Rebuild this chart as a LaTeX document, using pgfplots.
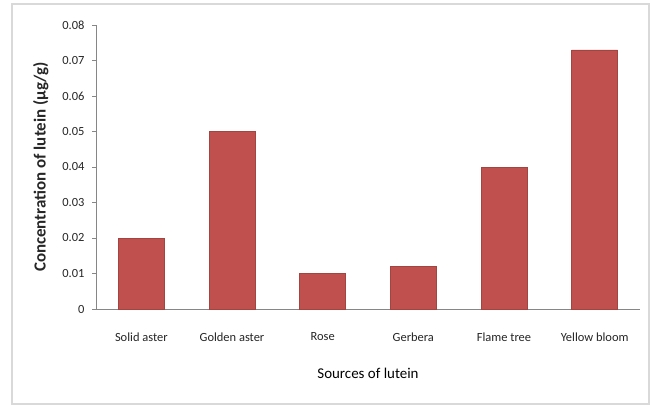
\documentclass[border=0pt]{standalone}
\usepackage{pgfplots}
\pgfplotsset{compat=1.18}
\usepackage{fontspec}
\setmainfont{Carlito}
\definecolor{barred}{HTML}{C0504D}
\definecolor{axgray}{HTML}{868686}
\begin{document}
\begin{tikzpicture}[x=1bp,y=1bp]
\fill[white] (0,0) rectangle (655,409);
\draw[black!15, line width=1.5bp] (12,5) rectangle (649,405);
\begin{axis}[
  at={(96bp,100bp)}, anchor=south west,
  scale only axis, width=544bp, height=284bp,
  xmin=-0.5, xmax=5.5, ymin=0, ymax=0.08,
  axis x line*=bottom, axis y line*=left,
  axis line style={axgray, line width=0.8bp},
  xtick=data,
  xticklabels={Solid aster, Golden aster, Rose, Gerbera, Flame tree, Yellow bloom},
  x tick style={draw=none},
  ytick={0,0.01,...,0.08},
  yticklabels={0,0.01,0.02,0.03,0.04,0.05,0.06,0.07,0.08},
  scaled y ticks=false,
  y tick style={axgray, line width=0.6bp},
  tick align=outside, major tick length=4bp,
  tick label style={font=\fontsize{12.5}{14}\selectfont, text=black!85},
  yticklabel style={xshift=-4bp},
  xticklabel style={yshift=-16bp},
  /pgf/number format/assume math mode=true,
  xlabel={Sources of lutein},
  xlabel style={font=\fontsize{15}{17}\selectfont, yshift=-20bp},
  ylabel={\bfseries Concentration of lutein (μg/g)},
  ylabel style={font=\fontsize{17}{19}\selectfont, yshift=7bp, text=black!85},
  ybar, bar width=46bp,
  enlarge x limits=false,
]
\addplot[fill=barred, draw=barred!85!black] coordinates {
(0,0.020) (1,0.050) (2,0.010) (3,0.012) (4,0.040) (5,0.073)};
\end{axis}
\end{tikzpicture}
\end{document}
